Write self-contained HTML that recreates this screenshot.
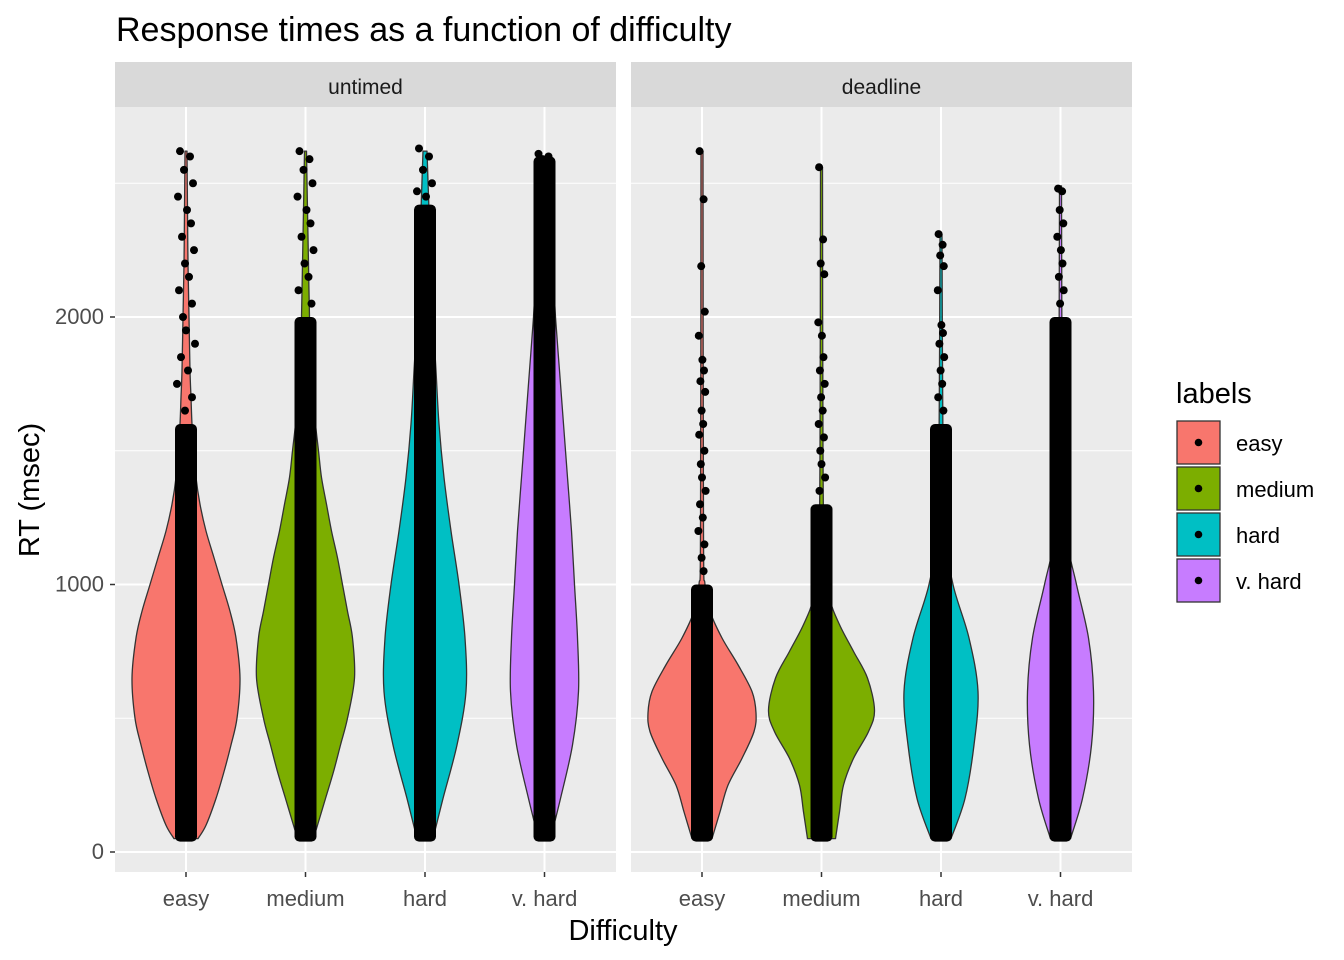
<!DOCTYPE html>
<html><head><meta charset="utf-8"><style>
body{margin:0;background:#fff;}
svg{display:block;font-family:"Liberation Sans",sans-serif;}
</style></head><body>
<svg id="chart" width="1344" height="960"></svg>
<script>
const facets=["untimed","deadline"];
const categories=["easy","medium","hard","v. hard"];
const colors=["#F8766D","#7CAE00","#00BFC4","#C77CFF"];
const yTicks=[0,1000,2000];
const profRT=[
[[50,100,200,300,400,500,650,800,900,1000,1100,1200,1300,1400,1500,1600,1700,1800,2000,2200,2400,2620],
 [50,100,200,300,400,500,650,800,900,1000,1100,1200,1300,1400,1500,1600,1700,1800,2000,2200,2400,2620],
 [50,200,400,600,800,1000,1200,1400,1600,1800,2000,2200,2400,2620],
 [50,200,400,600,800,1000,1200,1400,1600,1800,2000,2200,2400,2600]],
[[50,150,250,350,450,520,600,700,800,900,1000,1200,2620],
 [50,150,250,350,450,530,650,750,850,950,1100,1500,2560],
 [50,200,400,600,800,1000,1200,1500,2310],
 [50,200,400,600,800,1000,1200,1500,2490]]];
const profW=[
[[12,20,30,38,45,51,54,50,44,36,28,20,14,10,8,6,5,4,3,2,1.5,1],
 [8,12,20,28,35,42,49,47,42,37,32,26,21,16,13,10,8,6,4,3,2,1],
 [8,18,32,41,40,34,26,19,14,11,8,6,4,2],
 [6,16,28,34,33,30,27,23,19,15,11,8,5,2]],
[[10,18,26,40,52,54,50,36,20,8,3,1.5,1],
 [14,18,22,32,47,53,46,32,18,8,3,1.5,1],
 [10,24,33,37,28,12,4,2,1],
 [10,22,31,33,28,16,5,2,1]]];
const denseTop=[[1600,2000,2420,2600],[1000,1300,1600,2000]];
const outliers=[
[[2620,2600,2550,2500,2450,2400,2350,2300,2250,2200,2150,2100,2050,2000,1950,1900,1850,1800,1750,1700,1650],
 [2620,2590,2550,2500,2450,2400,2350,2300,2250,2200,2150,2100,2050],
 [2630,2600,2550,2500,2470,2450],
 [2610,2600,2590]],
[[2620,2440,2190,2020,1930,1840,1800,1760,1720,1650,1600,1560,1500,1450,1400,1350,1300,1250,1200,1150,1100,1050],
 [2560,2290,2200,2160,1980,1930,1850,1800,1750,1700,1650,1600,1550,1500,1450,1400,1350],
 [2310,2270,2230,2190,2100,1970,1940,1900,1850,1800,1750,1700,1650],
 [2480,2470,2400,2350,2300,2250,2200,2150,2100,2050]]];
const jit=[-6,4,-2,7,-8,1,5,-4,8,-1,3,-7,6,-3,0,9,-5,2,-9,6,-1,4];
const NS="http://www.w3.org/2000/svg";
const svg=document.getElementById('chart');
function mk(t,a,p){const e=document.createElementNS(NS,t);for(const k in a)e.setAttribute(k,a[k]);(p||svg).appendChild(e);return e;}
const panels=[115,631],pw=501,topY=107,botY=872;
const y=v=>852-v*0.2675;
const x=(f,i)=>panels[f]+71+i*119.5;
function smooth(pts){
  let d='M'+pts[0][0]+','+pts[0][1];
  for(let i=0;i<pts.length-1;i++){
    const p0=pts[Math.max(0,i-1)],p1=pts[i],p2=pts[i+1],p3=pts[Math.min(pts.length-1,i+2)];
    const c1=[p1[0]+(p2[0]-p0[0])/6,p1[1]+(p2[1]-p0[1])/6];
    const c2=[p2[0]-(p3[0]-p1[0])/6,p2[1]-(p3[1]-p1[1])/6];
    d+='C'+c1[0]+','+c1[1]+' '+c2[0]+','+c2[1]+' '+p2[0]+','+p2[1];
  }
  return d;
}
let t=mk('text',{x:116,y:41,'font-size':34,fill:'#000'});t.textContent="Response times as a function of difficulty";


facets.forEach((fn,f)=>{
  const g=mk('g',{});
  
  
  const s=mk('rect',{x:panels[f],y:62,width:pw,height:45,fill:'#D9D9D9'},g);
  
  
  const st=mk('text',{x:panels[f]+pw/2,y:94,'font-size':21,fill:'#1A1A1A','text-anchor':'middle'},g);st.textContent=fn;
  
  
  mk('rect',{x:panels[f],y:topY,width:pw,height:botY-topY,fill:'#EBEBEB'},g);
  [500,1500,2500].forEach(v=>mk('line',{x1:panels[f],x2:panels[f]+pw,y1:y(v),y2:y(v),stroke:'#fff','stroke-width':1},g));
  yTicks.forEach(v=>mk('line',{x1:panels[f],x2:panels[f]+pw,y1:y(v),y2:y(v),stroke:'#fff','stroke-width':2},g));
  categories.forEach((c,i)=>mk('line',{x1:x(f,i),x2:x(f,i),y1:topY,y2:botY,stroke:'#fff','stroke-width':2},g));
  categories.forEach((c,i)=>{
    const cx=x(f,i),rt=profRT[f][i],w=profW[f][i];
    const right=rt.map((v,k)=>[cx+w[k],y(v)]);
    const left=rt.map((v,k)=>[cx-w[k],y(v)]).reverse();
    let d=smooth(right)+'L'+smooth(left).slice(1)+'Z';
    const p=mk('path',{d:d,fill:colors[i],stroke:'#333','stroke-width':1.3,'stroke-linejoin':'round'},g);
    
    
    const r=mk('rect',{x:cx-11,y:y(denseTop[f][i]),width:22,height:y(50)-y(denseTop[f][i])+3,rx:5,fill:'#000'},g);
    
    
    outliers[f][i].forEach((v,k)=>{
      const o=mk('circle',{cx:cx+jit[k%jit.length]*(f?0.4:1),cy:y(v),r:4,fill:'#000'},g);
      
      
    });
    mk('line',{x1:cx,x2:cx,y1:botY,y2:botY+5,stroke:'#333','stroke-width':1.5},g);
    const tl=mk('text',{x:cx,y:906,'font-size':22,fill:'#4D4D4D','text-anchor':'middle'},g);tl.textContent=c;
    
    
  });
});
yTicks.forEach(v=>{
  mk('line',{x1:110,x2:115,y1:y(v),y2:y(v),stroke:'#333','stroke-width':1.5});
  const l=mk('text',{x:104,y:y(v)+7,'font-size':22,fill:'#4D4D4D','text-anchor':'end'});l.textContent=v;
  
  
});
let xt=mk('text',{x:623,y:940,'font-size':29,fill:'#000','text-anchor':'middle'});xt.textContent="Difficulty";


let yt=mk('text',{x:0,y:0,'font-size':29,fill:'#000','text-anchor':'middle',transform:'translate(39,490) rotate(-90)'});yt.textContent="RT (msec)";


const lg=mk('g',{});


let lt=mk('text',{x:1176,y:403,'font-size':29,fill:'#000'},lg);lt.textContent="labels";
categories.forEach((c,i)=>{
  const yy=421+i*46;
  const e=mk('g',{},lg);
  
  
  mk('rect',{x:1177,y:yy,width:43,height:43,fill:colors[i],stroke:'#333','stroke-width':1.3},e);
  mk('circle',{cx:1198.5,cy:yy+21.5,r:3.8,fill:'#000'},e);
  const tx=mk('text',{x:1236,y:yy+30,'font-size':22,fill:'#000'},e);tx.textContent=c;
});
</script>
</body></html>
